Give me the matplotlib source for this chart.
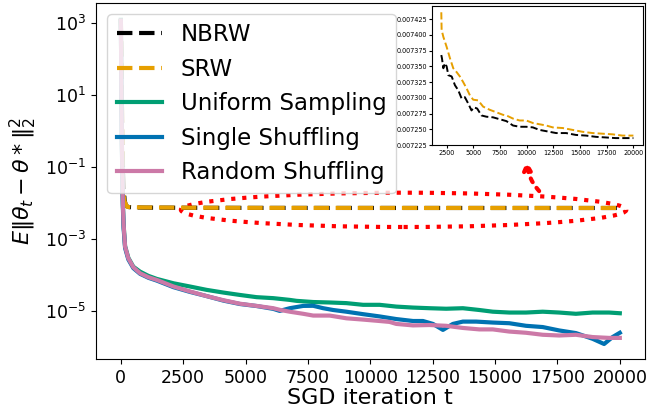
import matplotlib.pyplot as plt
from matplotlib.patches import Ellipse
from matplotlib.ticker import MultipleLocator, FormatStrFormatter, NullLocator

# NBRW / SRW (converge to a biased level around 7.2e-3)
nbrw_x = [0, 50, 90, 110, 150, 200, 300, 500, 1000, 1500,
          2000, 2060, 2190, 2340, 2500, 2660, 2970, 3280, 3590, 3900, 4210, 4520, 4830,
          5050, 5360, 5760, 6230, 6850, 7470, 8100, 8720, 9340, 9960, 10580, 11200,
          11830, 12760, 13690, 14620, 15550, 16490, 17420, 18350, 19280, 20000]
nbrw_y = [1250, 2.0, 0.06, 0.03, 0.012, 0.0085, 0.0077, 0.0075, 0.0074, 0.00738,
          0.007368, 0.007363, 0.007347, 0.007355, 0.007350, 0.007336, 0.007334, 0.007320,
          0.007312, 0.007299, 0.007301, 0.007291, 0.007280, 0.007285, 0.007283, 0.007272,
          0.007270, 0.007269, 0.007266, 0.007263, 0.007256, 0.007254, 0.007254, 0.007253,
          0.007249, 0.007247, 0.007244, 0.007244, 0.007241, 0.007240, 0.007238, 0.007237,
          0.007236, 0.007236, 0.007236]

srw_x = [0, 50, 92, 150, 250, 400, 1000, 1500,
         2000, 2030, 2190, 2500, 2810, 3120, 3430, 3740, 4050, 4370, 4680, 4990, 5450,
         5920, 6540, 7160, 7780, 8100, 8720, 9340, 9960, 10580, 11200, 11830, 12450,
         13380, 14310, 15240, 16180, 17110, 18040, 18970, 20000]
srw_y = [1300, 2.5, 0.019, 0.011, 0.0078, 0.0076, 0.00748, 0.00745,
         0.007436, 0.007408, 0.007397, 0.007381, 0.007363, 0.007347, 0.007341, 0.007334,
         0.007325, 0.007315, 0.007304, 0.007297, 0.007296, 0.007286, 0.007281, 0.007277,
         0.007273, 0.007272, 0.007267, 0.007264, 0.007264, 0.007260, 0.007258, 0.007256,
         0.007253, 0.007252, 0.007249, 0.007246, 0.007244, 0.007243, 0.007242, 0.007240,
         0.007240]

uni_x = [0, 40, 80, 110, 170, 300, 500, 770, 1100, 1440, 2110, 2770, 3440, 4110, 4770,
         5440, 6110, 6770, 7040, 7710, 8370, 9040, 9710, 10370, 11040, 11710, 12370,
         13040, 13710, 14370, 14910, 15570, 16240, 16910, 17570, 18240, 18910, 19570, 20000]
uni_y = [1200, 0.5, 0.01, 0.0025, 6.3e-4, 3.0e-4, 1.7e-4, 1.24e-4, 9.5e-5, 7.8e-5,
         5.9e-5, 4.8e-5, 3.87e-5, 3.26e-5, 2.8e-5, 2.43e-5, 2.28e-5, 2.04e-5, 1.92e-5,
         1.78e-5, 1.73e-5, 1.66e-5, 1.49e-5, 1.49e-5, 1.33e-5, 1.25e-5, 1.2e-5, 1.16e-5,
         1.2e-5, 1.07e-5, 9.6e-6, 9.1e-6, 9.1e-6, 9.6e-6, 9.1e-6, 8.4e-6, 9.1e-6, 9.1e-6,
         8.7e-6]

single_x = [0, 40, 80, 110, 170, 300, 500, 770, 1100, 1440, 2110, 2770, 3440, 4110,
            4770, 5440, 6110, 6370, 6770, 7310, 7710, 8110, 8510, 9040, 9710, 10370,
            11040, 11710, 12110, 12510, 12910, 13310, 13710, 14240, 14910, 15570, 16240,
            16910, 17570, 18240, 18910, 19370, 19710, 20000]
single_y = [1100, 0.4, 0.008, 0.002, 5.6e-4, 2.7e-4, 1.55e-4, 1.08e-4, 8.4e-5, 7.0e-5,
            4.6e-5, 3.4e-5, 2.6e-5, 1.95e-5, 1.57e-5, 1.38e-5, 1.15e-5, 1.01e-5, 1.2e-5,
            1.39e-5, 1.4e-5, 1.2e-5, 1.07e-5, 9.6e-6, 8.2e-6, 7.1e-6, 6.0e-6, 5.3e-6,
            5.3e-6, 4.4e-6, 3.0e-6, 4.4e-6, 5.1e-6, 5.1e-6, 4.8e-6, 4.6e-6, 3.9e-6, 3.6e-6,
            2.9e-6, 2.45e-6, 1.7e-6, 1.22e-6, 1.9e-6, 2.5e-6]

random_x = [0, 40, 80, 110, 170, 300, 500, 770, 1100, 1440, 2110, 2770, 3440, 4110,
            4770, 5440, 6110, 6400, 6770, 7310, 7710, 8370, 9040, 9710, 10370, 10770,
            11040, 11710, 12370, 13040, 13710, 14370, 14910, 15570, 16240, 16910, 17570,
            18240, 18910, 19570, 20000]
random_y = [1150, 0.5, 0.01, 0.0025, 6.1e-4, 2.9e-4, 1.64e-4, 1.12e-4, 8.7e-5, 7.3e-5,
            4.8e-5, 3.5e-5, 2.6e-5, 2.0e-5, 1.6e-5, 1.39e-5, 1.2e-5, 1.07e-5, 9.6e-6,
            8.4e-6, 7.5e-6, 7.5e-6, 6.3e-6, 5.8e-6, 5.3e-6, 5.0e-6, 4.4e-6, 4.0e-6, 4.1e-6,
            3.9e-6, 3.4e-6, 3.1e-6, 3.1e-6, 2.7e-6, 2.5e-6, 2.2e-6, 2.1e-6, 2.2e-6, 1.9e-6,
            1.8e-6, 1.8e-6]

labels = ["NBRW", "SRW", "Uniform Sampling", "Single Shuffling", "Random Shuffling"]
colors = ["black", "#E69F00", "#009E73", "#0072B2", "#CC79A7"]
xticks = [0, 2500, 5000, 7500, 10000, 12500, 15000, 17500, 20000]

fig = plt.figure(figsize=(6.48, 4.19), dpi=100)
ax = fig.add_axes([0.148, 0.1425, 0.847, 0.851])

lw = 3
ax.plot(nbrw_x, nbrw_y, "--", color=colors[0], lw=lw, label=labels[0])
ax.plot(srw_x, srw_y, "--", color=colors[1], lw=lw, label=labels[1])
ax.plot(uni_x, uni_y, "-", color=colors[2], lw=lw, label=labels[2])
ax.plot(single_x, single_y, "-", color=colors[3], lw=lw, label=labels[3])
ax.plot(random_x, random_y, "-", color=colors[4], lw=lw, label=labels[4])

ax.set_yscale("log")
ax.set_xlim(-1000, 21000)
ax.set_ylim(10 ** -6.338, 10 ** 3.554)
ax.set_xticks(xticks)
ax.set_yticks([1e3, 1e1, 1e-1, 1e-3, 1e-5])
ax.yaxis.set_minor_locator(NullLocator())
ax.tick_params(labelsize=12.5)
ax.set_xlabel("SGD iteration t", fontsize=16, labelpad=1)
ax.set_ylabel(r"$E\|\theta_t - \theta*\|_2^2$", fontsize=16)
ax.legend(loc="upper left", fontsize=16.5, labelspacing=0.5)

# red dotted ellipse around the RW plateau + arrow to the inset
ell = Ellipse((0.5606, 0.4191), 0.8115, 0.0962, transform=ax.transAxes,
              fill=False, edgecolor="red", linestyle=":", lw=3)
ax.add_patch(ell)
ax.annotate("", xy=(0.785, 0.565), xytext=(0.811, 0.466),
            xycoords="axes fraction", textcoords="axes fraction",
            arrowprops=dict(arrowstyle="-|>", color="red", lw=3, linestyle=":",
                            connectionstyle="arc3,rad=-0.2", mutation_scale=12))

# zoomed inset of the NBRW / SRW tails
axin = fig.add_axes([0.6662, 0.6539, 0.3261, 0.3318])
n0 = nbrw_x.index(2000)
s0 = srw_x.index(2000)
axin.plot(nbrw_x[n0:], nbrw_y[n0:], "--", color=colors[0], lw=1.4)
axin.plot(srw_x[s0:], srw_y[s0:], "--", color=colors[1], lw=1.4)
axin.xaxis.set_major_locator(MultipleLocator(2500))
axin.yaxis.set_major_locator(MultipleLocator(0.000025))
axin.yaxis.set_major_formatter(FormatStrFormatter("%.6f"))
axin.set_ylim(0.007225, 0.007446)
axin.tick_params(labelsize=4.7, length=2, pad=1.5)

fig.savefig("out.png", dpi=100)
